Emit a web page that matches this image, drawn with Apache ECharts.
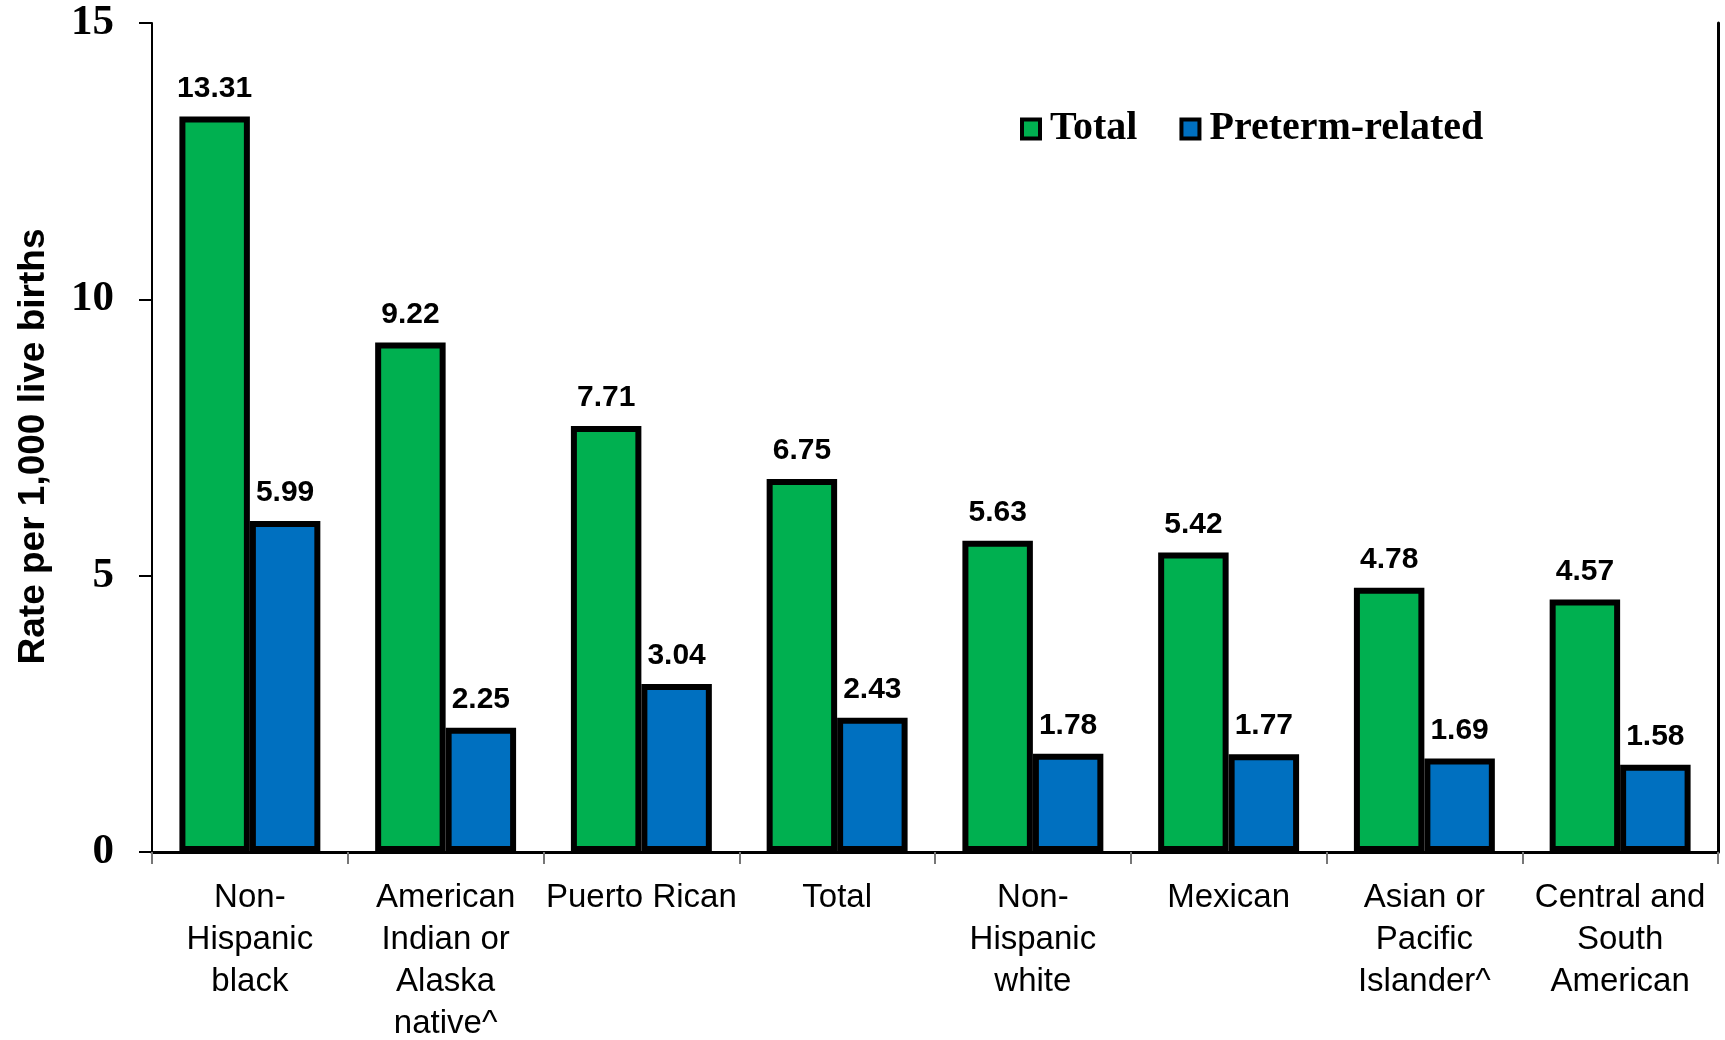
<!DOCTYPE html>
<html>
<head>
<meta charset="utf-8">
<script src="https://cdn.jsdelivr.net/npm/echarts@6/dist/echarts.min.js"></script>
<style>html,body{margin:0;padding:0;background:#fff}#c{width:1725px;height:1040px}</style>
</head>
<body>
<div id="c"></div>
<script>
var categories = ['Non-\nHispanic\nblack', 'American\nIndian or\nAlaska\nnative^', 'Puerto Rican', 'Total', 'Non-\nHispanic\nwhite', 'Mexican', 'Asian or\nPacific\nIslander^', 'Central and\nSouth\nAmerican'];
var totalValues = [13.31, 9.22, 7.71, 6.75, 5.63, 5.42, 4.78, 4.57];
var pretermValues = [5.99, 2.25, 3.04, 2.43, 1.78, 1.77, 1.69, 1.58];
var seriesNames = ['Total', 'Preterm-related'];
var yTicks = [0, 5, 10, 15];

var serif = '"Liberation Serif","Times New Roman",serif';
var sans = '"Liberation Sans",Arial,sans-serif';
var narrow = '"Liberation Sans Narrow","Arial Narrow","Liberation Sans",Arial,sans-serif';

var chart = echarts.init(document.getElementById('c'), null, {renderer: 'canvas'});
var labelCfg = {
  show: true, position: 'top', distance: 13,
  fontFamily: sans, fontWeight: 'bold', fontSize: 30, color: '#000',
  formatter: function (p) { return p.value.toFixed(2); }
};
chart.setOption({
  backgroundColor: '#fff',
  animation: false,
  grid: {left: 152, right: 7, top: 23, bottom: 188, containLabel: false, outerBoundsMode: 'none'},
  legend: {
    left: 1015, top: 104, itemGap: 42, itemWidth: 18, itemHeight: 19, icon: 'rect',
    itemStyle: {borderColor: '#000', borderWidth: 4},
    textStyle: {fontFamily: serif, fontWeight: 'bold', fontSize: 40, color: '#000', padding: [0, 0, 0, 5]},
    data: seriesNames
  },
  xAxis: [{
    type: 'category', data: categories, position: 'bottom',
    axisLine: {lineStyle: {color: '#777', width: 2}},
    axisTick: {show: true, length: 12, lineStyle: {color: '#777', width: 2}},
    axisLabel: {interval: 0, margin: 25, fontFamily: narrow, fontSize: 33, lineHeight: 42, color: '#000'}
  }, {
    type: 'category', data: categories, position: 'top',
    axisLine: {show: true, lineStyle: {color: '#000', width: 3}},
    axisTick: {show: false}, axisLabel: {show: false}
  }],
  yAxis: [{
    type: 'value', min: yTicks[0], max: yTicks[yTicks.length - 1], interval: 5,
    name: 'Rate per 1,000 live births', nameLocation: 'middle', nameGap: 100,
    nameTextStyle: {fontFamily: sans, fontWeight: 'bold', fontSize: 37, color: '#000', padding: [0, 18, 0, 0]},
    axisLine: {show: true, lineStyle: {color: '#000', width: 2}},
    axisTick: {show: true, length: 13, lineStyle: {color: '#000', width: 2}},
    axisLabel: {margin: 38, fontFamily: serif, fontWeight: 'bold', fontSize: 43, color: '#000'},
    splitLine: {show: false}
  }, {
    type: 'value', min: yTicks[0], max: yTicks[yTicks.length - 1], interval: 5, position: 'right',
    axisLine: {show: true, lineStyle: {color: '#000', width: 3}},
    axisTick: {show: false}, axisLabel: {show: false}, splitLine: {show: false}
  }],
  series: [{
    name: seriesNames[0], type: 'bar', data: totalValues,
    barGap: '0%', barCategoryGap: '28%',
    itemStyle: {color: '#00B050', borderColor: '#000', borderWidth: 6},
    label: labelCfg
  }, {
    name: seriesNames[1], type: 'bar', data: pretermValues,
    barGap: '0%', barCategoryGap: '28%',
    itemStyle: {color: '#0070C0', borderColor: '#000', borderWidth: 6},
    label: labelCfg
  }]
});
</script>
</body>
</html>
